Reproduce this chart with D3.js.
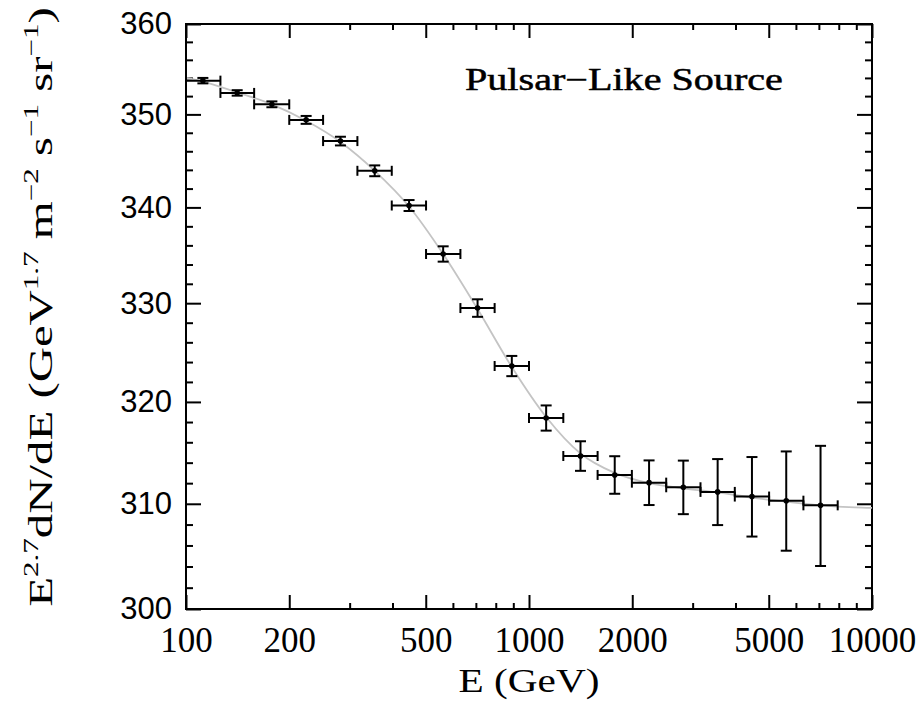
<!DOCTYPE html>
<html><head><meta charset="utf-8">
<script src="https://cdn.jsdelivr.net/npm/d3@7"></script>
<style>body{margin:0;background:#fff}svg{display:block}</style>
</head><body>
<svg width="922" height="704"></svg>
<script>
// ---- data ----
const energy  = [112,141,178,224,282,355,447,562,708,891,1122,1413,1778,2239,2818,3548,4467,5623,7079];
const binLow  = [100,126,158,200,251,316,398,501,631,794,1000,1259,1585,1995,2512,3162,3981,5012,6310];
const binHigh = [126,158,200,251,316,398,501,631,794,1000,1259,1585,1995,2512,3162,3981,5012,6310,7943];
const flux    = [353.7,352.35,351.1,349.4,347.1,343.9,340.2,335.1,329.5,323.6,318.4,314.65,312.8,312.05,311.6,311.15,310.7,310.3,309.85];
const fluxErr = [0.3,0.3,0.32,0.43,0.47,0.58,0.58,0.8,0.9,1.02,1.25,1.45,1.83,2.17,2.6,3.2,3.85,4.8,5.8];
const modelE    = [100,112,141,178,224,282,355,447,562,708,891,1122,1413,1778,2239,2818,3548,4467,5623,7079,8913,10000];
const modelFlux = [354.0,353.6,352.4,351.1,349.3,347.0,343.9,340.1,335.1,329.4,323.5,318.5,314.9,313.0,312.0,311.5,311.1,310.6,310.2,309.85,309.65,309.6];
const xTickLabels = [100,200,500,1000,2000,5000,10000];
const xMinorTicks = [300,400,600,700,800,900,3000,4000,6000,7000,8000,9000];
const yTickLabels = [300,310,320,330,340,350,360];
const yMinorTicks = [302,304,306,308,312,314,316,318,322,324,326,328,332,334,336,338,342,344,346,348,352,354,356,358];
const sourceLabel = "Pulsar\u2212Like Source";

// ---- layout ----
const L = 186, R = 872, T = 24, B = 609;
const svg = d3.select("svg");
const x = d3.scaleLog().domain([100,10000]).range([L,R]);
const y = d3.scaleLog().domain([300,360]).range([B,T]);

const serif = "'Liberation Serif','Times New Roman',serif";
const sans = "'Liberation Sans',Arial,sans-serif";

function styleAxis(g){
  g.select(".domain").remove();
  g.selectAll(".tick line").attr("stroke","#000").attr("stroke-width",2);
}
// bottom
svg.append("g").attr("transform",`translate(0,${B})`)
  .call(d3.axisBottom(x).tickValues(xTickLabels).tickSize(-14).tickPadding(18).tickFormat(d3.format("d")))
  .call(styleAxis)
  .call(g=>g.selectAll("text").attr("font-family",serif).attr("font-size",35).attr("fill","#000"));
svg.append("g").attr("transform",`translate(0,${B})`)
  .call(d3.axisBottom(x).tickValues(xMinorTicks).tickSize(-6).tickFormat(""))
  .call(styleAxis);
// top
svg.append("g").attr("transform",`translate(0,${T})`)
  .call(d3.axisTop(x).tickValues(xTickLabels).tickSize(-14).tickFormat(""))
  .call(styleAxis);
svg.append("g").attr("transform",`translate(0,${T})`)
  .call(d3.axisTop(x).tickValues(xMinorTicks).tickSize(-6).tickFormat(""))
  .call(styleAxis);
// left
svg.append("g").attr("transform",`translate(${L},0)`)
  .call(d3.axisLeft(y).tickValues(yTickLabels).tickSize(-15).tickPadding(14).tickFormat(d3.format("d")))
  .call(styleAxis)
  .call(g=>g.selectAll("text").attr("font-family",sans).attr("font-size",31).attr("fill","#000"));
svg.append("g").attr("transform",`translate(${L},0)`)
  .call(d3.axisLeft(y).tickValues(yMinorTicks).tickSize(-7).tickFormat(""))
  .call(styleAxis);
// right
svg.append("g").attr("transform",`translate(${R},0)`)
  .call(d3.axisRight(y).tickValues(yTickLabels).tickSize(-15).tickFormat(""))
  .call(styleAxis);
svg.append("g").attr("transform",`translate(${R},0)`)
  .call(d3.axisRight(y).tickValues(yMinorTicks).tickSize(-7).tickFormat(""))
  .call(styleAxis);

// frame
svg.append("rect").attr("x",L).attr("y",T).attr("width",R-L).attr("height",B-T)
  .attr("fill","none").attr("stroke","#000").attr("stroke-width",2);

// model curve
const curve = d3.line().x((d,i)=>x(modelE[i])).y(d=>y(d)).curve(d3.curveMonotoneX);
svg.append("path").attr("d",curve(modelFlux)).attr("fill","none")
  .attr("stroke","#c4c4c4").attr("stroke-width",1.8);

// data points
const pts = svg.append("g").attr("stroke","#000").attr("stroke-width",2).attr("fill","none");
const cap = 5;
energy.forEach((e,i)=>{
  const cx = x(e), cy = y(flux[i]);
  const x0 = x(binLow[i]), x1 = x(binHigh[i]);
  const y0 = y(flux[i]-fluxErr[i]), y1 = y(flux[i]+fluxErr[i]);
  pts.append("line").attr("x1",x0).attr("x2",x1).attr("y1",cy).attr("y2",cy);
  pts.append("line").attr("x1",x0).attr("x2",x0).attr("y1",cy-cap).attr("y2",cy+cap);
  pts.append("line").attr("x1",x1).attr("x2",x1).attr("y1",cy-cap).attr("y2",cy+cap);
  pts.append("line").attr("x1",cx).attr("x2",cx).attr("y1",y0).attr("y2",y1);
  pts.append("line").attr("x1",cx-5.5).attr("x2",cx+5.5).attr("y1",y0).attr("y2",y0);
  pts.append("line").attr("x1",cx-5.5).attr("x2",cx+5.5).attr("y1",y1).attr("y2",y1);
  svg.append("circle").attr("cx",cx).attr("cy",cy).attr("r",2.8).attr("fill","#000");
});

// source label
const sl = svg.append("text").attr("x",0).attr("y",0)
  .attr("font-family",serif).attr("font-size",31).attr("fill","#000")
  .attr("stroke","#000").attr("stroke-width",0.5).text(sourceLabel);
{
  const w = sl.node().getComputedTextLength();
  sl.attr("transform",`translate(465,90) scale(${318/w},1)`);
}

// x title
const xt = svg.append("text").attr("x",0).attr("y",0).attr("text-anchor","middle")
  .attr("font-family",serif).attr("font-size",34).attr("fill","#000").text("E (GeV)");
{
  const w = xt.node().getComputedTextLength();
  xt.attr("transform",`translate(${(L+R)/2},692) scale(${141/w},1)`);
}

// y title
const yt = svg.append("text").attr("font-family",serif).attr("font-size",33).attr("fill","#000")
  .attr("text-anchor","middle").attr("x",0).attr("y",0);
const parts = [["E",0],["2.7",1],["dN/dE (GeV",0],["1.7",1],[" m",0],["\u22122",1],[" s",0],["\u22121",1],[" sr",0],["\u22121",1],[")",0]];
parts.forEach(([t,sup],i)=>{
  const prevSup = i>0 ? parts[i-1][1] : 0;
  let dy = 0;
  if(sup && !prevSup) dy = -14;
  if(!sup && prevSup) dy = 14;
  const ts = yt.append("tspan").attr("dy",dy).text(t);
  if(sup) ts.attr("font-size",21);
});
{
  const w = yt.node().getComputedTextLength();
  yt.attr("transform",`translate(52,307) rotate(-90) scale(${600/w},1)`);
}
</script>
</body></html>
